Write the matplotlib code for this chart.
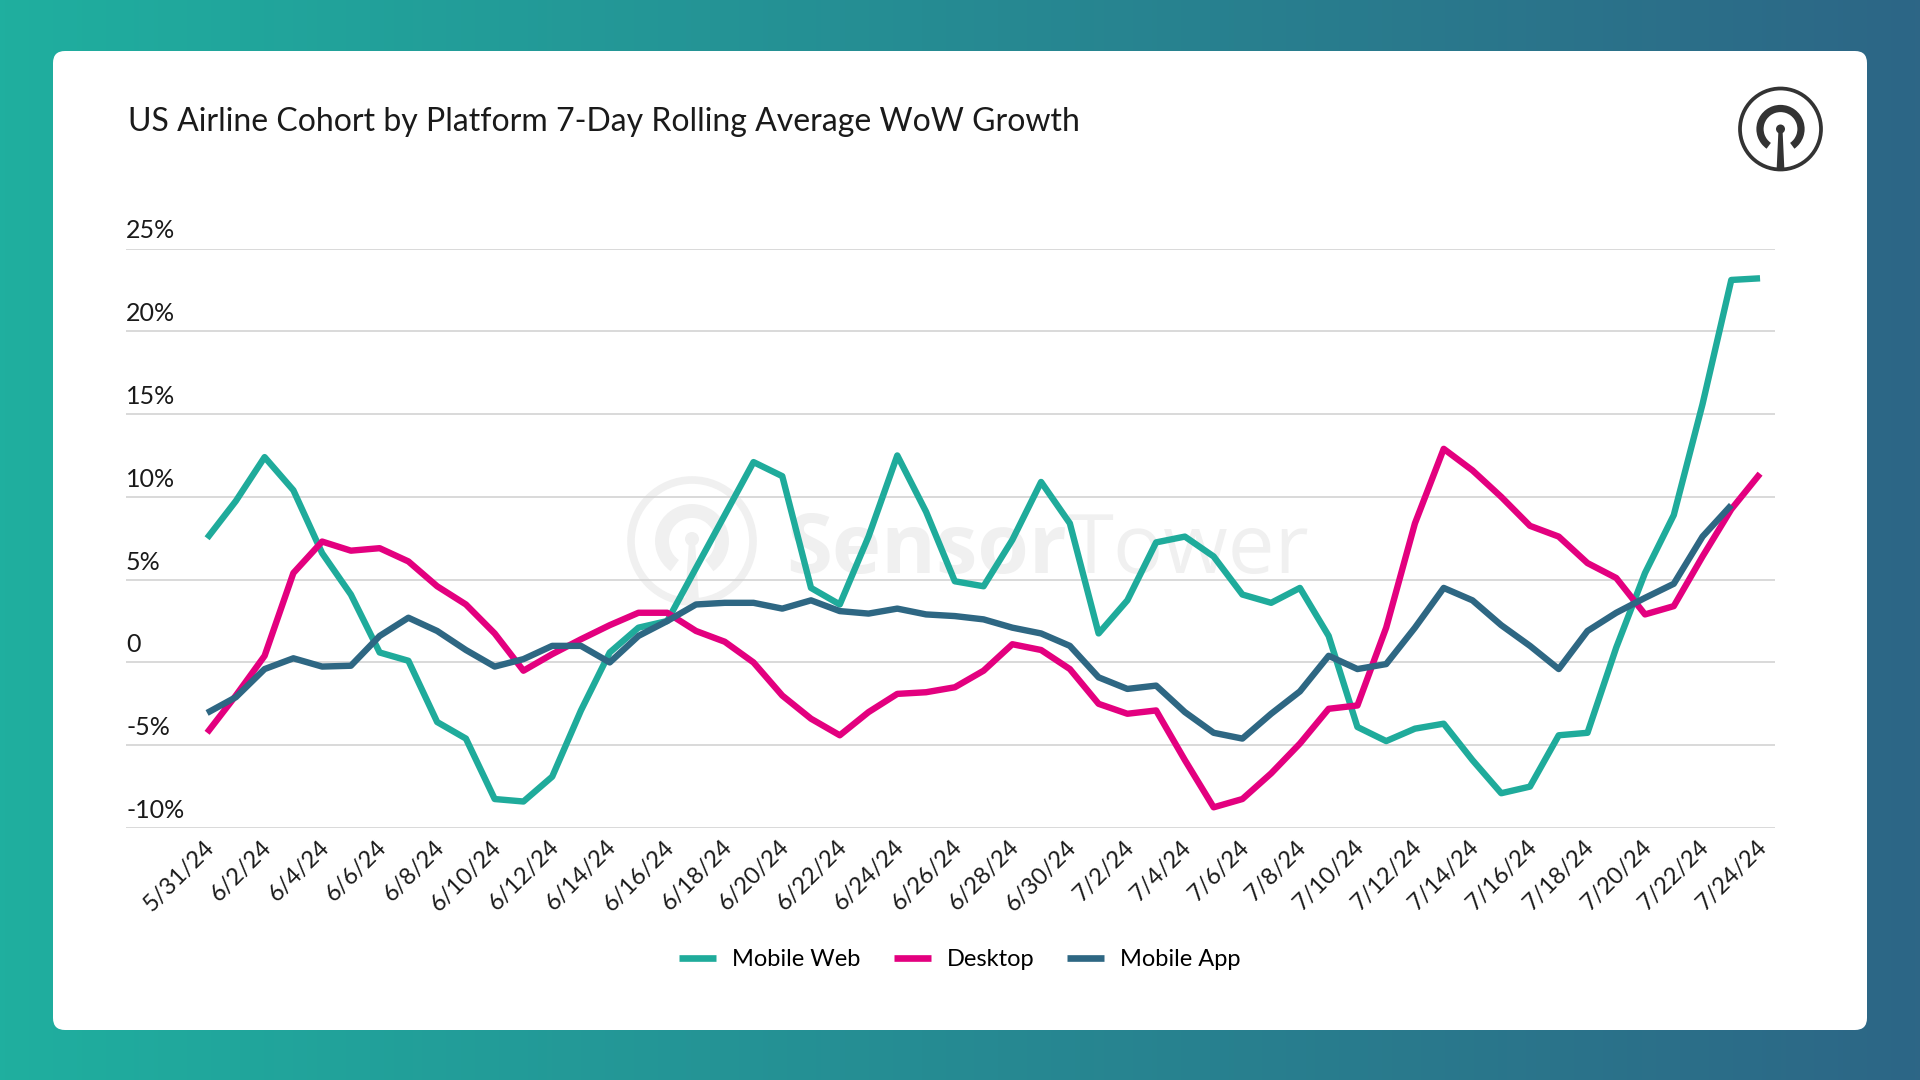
import numpy as np
import matplotlib.pyplot as plt
from matplotlib.patches import FancyBboxPatch, Circle, Arc, Polygon
from matplotlib.lines import Line2D
import matplotlib.transforms as mtransforms

plt.rcParams['font.family'] = ['Lato', 'DejaVu Sans']

# daily values 5/31/24 .. 7/24/24, WoW growth in %
mobile_web = [7.5, 9.75, 12.4, 10.4, 6.6, 4.1, 0.6, 0.1, -3.6, -4.6,
              -8.25, -8.4, -6.9, -2.9, 0.6, 2.1, 2.5, 5.7, 8.9, 12.1,
              11.25, 4.5, 3.5, 7.6, 12.5, 9.1, 4.9, 4.6, 7.4, 10.9,
              8.4, 1.75, 3.75, 7.25, 7.6, 6.4, 4.1, 3.6, 4.5, 1.6,
              -3.9, -4.75, -4.0, -3.7, -5.9, -7.9, -7.5, -4.4, -4.25, 0.9,
              5.4, 8.9, 15.6, 23.1, 23.2]
desktop = [-4.25, -2.0, 0.4, 5.4, 7.3, 6.75, 6.9, 6.1, 4.6, 3.5,
           1.75, -0.5, 0.5, 1.4, 2.25, 3.0, 3.0, 1.9, 1.25, 0.0,
           -2.0, -3.4, -4.4, -3.0, -1.9, -1.8, -1.5, -0.5, 1.1, 0.75,
           -0.4, -2.5, -3.1, -2.9, -5.9, -8.75, -8.25, -6.7, -4.9, -2.8,
           -2.6, 2.1, 8.4, 12.9, 11.6, 10.0, 8.25, 7.6, 6.0, 5.1,
           2.9, 3.4, 6.4, 9.25, 11.4]
mobile_app = [-3.05, -2.1, -0.4, 0.25, -0.25, -0.2, 1.6, 2.7, 1.9, 0.75,
              -0.25, 0.2, 1.0, 1.0, 0.0, 1.6, 2.5, 3.5, 3.6, 3.6,
              3.25, 3.75, 3.1, 2.95, 3.25, 2.9, 2.8, 2.6, 2.1, 1.75,
              1.0, -0.9, -1.6, -1.4, -3.0, -4.25, -4.6, -3.1, -1.75, 0.4,
              -0.4, -0.1, 2.1, 4.5, 3.75, 2.25, 1.0, -0.4, 1.9, 3.0,
              3.9, 4.75, 7.6, 9.5, np.nan]

tick_labels = ['5/31/24', '6/2/24', '6/4/24', '6/6/24', '6/8/24', '6/10/24',
               '6/12/24', '6/14/24', '6/16/24', '6/18/24', '6/20/24', '6/22/24',
               '6/24/24', '6/26/24', '6/28/24', '6/30/24', '7/2/24', '7/4/24',
               '7/6/24', '7/8/24', '7/10/24', '7/12/24', '7/14/24', '7/16/24',
               '7/18/24', '7/20/24', '7/22/24', '7/24/24']
y_ticks = [25, 20, 15, 10, 5, 0, -5, -10]
y_labels = ['25%', '20%', '15%', '10%', '5%', '0', '-5%', '-10%']

series = [('Mobile Web', mobile_web, '#1FAB9B'),
          ('Desktop', desktop, '#E3007F'),
          ('Mobile App', mobile_app, '#2E6783')]

W, H = 1920, 1080
fig = plt.figure(figsize=(19.2, 10.8), dpi=100)

# background gradient + white card
bg = fig.add_axes([0, 0, 1, 1])
bg.set_xlim(0, W)
bg.set_ylim(0, H)
bg.axis('off')
c1 = np.array([31, 175, 159]) / 255
c2 = np.array([45, 102, 134]) / 255
t = np.linspace(0, 1, 400)[None, :, None]
grad = c1 + (c2 - c1) * t
bg.imshow(np.repeat(grad, 2, axis=0), extent=[0, W, 0, H], aspect='auto')
bg.add_patch(FancyBboxPatch((53, 50), 1814, 979,
                            boxstyle='round,pad=0,rounding_size=12',
                            fc='white', ec='none'))

# logo top right
cx, cy = 1780.5, H - 129
bg.add_patch(Circle((cx, cy), 40.5, fc='none', ec='#333333', lw=2.7))
bg.add_patch(Arc((cx, cy), 41, 41, theta1=-55, theta2=235,
                 ec='#333333', lw=5.2))
bg.add_patch(Circle((cx, cy), 4.5, fc='#333333', ec='none'))
bg.add_patch(Polygon([(cx - 2, cy), (cx + 2, cy), (cx + 3.8, cy - 39),
                      (cx - 3.8, cy - 39)], fc='#333333', ec='none'))

# watermark
wm = '#F0F0F0'
wx, wy = 692, H - 541
bg.add_patch(Circle((wx, wy), 61, fc='none', ec=wm, lw=5.5))
bg.add_patch(Arc((wx, wy), 60, 60, theta1=-55, theta2=235, ec=wm, lw=10))
bg.add_patch(Circle((wx, wy + 2), 7, fc=wm, ec='none'))
bg.add_patch(Polygon([(wx - 3, wy), (wx + 3, wy), (wx + 7, wy - 60), (wx - 7, wy - 60)],
                     fc=wm, ec='none'))
tx = bg.text(786, H - 573, 'Sensor', fontsize=60, fontweight='bold', family='Open Sans',
             color=wm, va='baseline', ha='left')
fig.canvas.draw()
bb = tx.get_window_extent()
bg.text(bb.x1 + 1, H - 573, 'Tower', fontsize=60, family='Open Sans',
        color=wm, va='baseline', ha='left')

fig.text(128 / W, 1 - 122 / H, 'US Airline Cohort by Platform 7-Day Rolling Average WoW Growth',
         fontsize=23, color='#1a1a1a', va='center', ha='left')

# main chart
x0, x1 = 126, 1775
ax = fig.add_axes([x0 / W, 1 - 828 / H, (x1 - x0) / W, (828 - 248.5) / H])
ax.set_facecolor('none')
days = np.arange(len(mobile_web))
ax.set_xlim(-2.82, 54.52)
ax.set_ylim(-10, 25)
for s in ax.spines.values():
    s.set_visible(False)
ax.set_yticks(y_ticks)
ax.set_yticklabels([])
ax.tick_params(axis='y', length=0)
ax.grid(axis='y', color='#D0D0D0', lw=1.1)
ax.set_axisbelow(True)

off = mtransforms.offset_copy(ax.get_yaxis_transform(), fig=fig, x=0, y=6, units='dots')
for v, lab in zip(y_ticks, y_labels):
    ax.text(0, v, lab, transform=off, ha='left', va='bottom', fontsize=18, color='#1a1a1a')

ax.set_xticks(days[::2])
ax.set_xticklabels(tick_labels, rotation=45, ha='right', fontsize=17, color='#1a1a1a')
ax.tick_params(axis='x', length=0, pad=6)
shift = mtransforms.ScaledTranslation(11 / 100, 0, fig.dpi_scale_trans)
for lab in ax.get_xticklabels():
    lab.set_transform(lab.get_transform() + shift)

for name, vals, col in series:
    ax.plot(days, vals, color=col, lw=4.6, solid_joinstyle='round',
            solid_capstyle='butt', label=name, zorder=3)

handles = [Line2D([0], [0], color=c, lw=4.8, solid_capstyle='butt') for _, _, c in series]
fig.legend(handles, [n for n, _, _ in series], loc='center', bbox_to_anchor=(0.5, 1 - 960 / H),
           ncol=3, frameon=False, fontsize=17, handlelength=1.56, handletextpad=0.68,
           columnspacing=1.4)

fig.savefig('out.png', dpi=100)
